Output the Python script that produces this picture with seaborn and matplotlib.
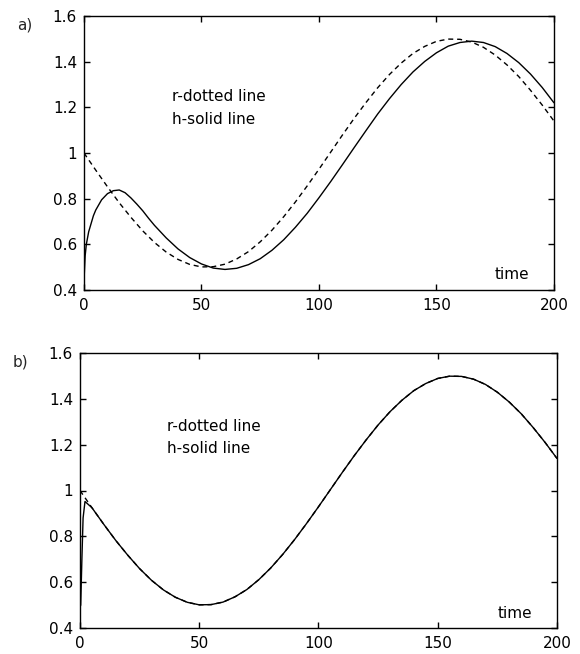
import matplotlib
matplotlib.use("Agg")
import matplotlib.pyplot as plt
import seaborn as sns
from matplotlib.ticker import FuncFormatter

# ---- data ----
t_r = [0, 5, 10, 15, 20, 25, 30, 35, 40, 45, 50, 55, 60, 65, 70, 75, 80, 85, 90, 95,
       100, 105, 110, 115, 120, 125, 130, 135, 140, 145, 150, 155, 160, 165, 170, 175,
       180, 185, 190, 195, 200]
r_vals = [1.000, 0.925, 0.852, 0.782, 0.718, 0.659, 0.608, 0.566, 0.534, 0.512, 0.501,
          0.502, 0.513, 0.536, 0.568, 0.611, 0.662, 0.721, 0.786, 0.856, 0.929, 1.004,
          1.079, 1.152, 1.221, 1.286, 1.344, 1.394, 1.436, 1.467, 1.489, 1.499, 1.498,
          1.486, 1.463, 1.429, 1.386, 1.335, 1.275, 1.210, 1.140]

t_ha = [0, 0.5, 1, 2, 3, 4, 5, 7.5, 10, 12.5, 15, 17.5, 20, 22.5, 25, 27.5, 30, 35, 40,
        45, 50, 55, 60, 65, 70, 75, 80, 85, 90, 95, 100, 105, 110, 115, 120, 125, 130,
        135, 140, 145, 150, 155, 160, 165, 170, 175, 180, 185, 190, 195, 200]
h_a = [0.44, 0.55, 0.60, 0.655, 0.69, 0.725, 0.75, 0.795, 0.822, 0.835, 0.838, 0.826,
       0.803, 0.776, 0.747, 0.714, 0.683, 0.628, 0.580, 0.542, 0.514, 0.496, 0.490,
       0.495, 0.511, 0.537, 0.574, 0.620, 0.675, 0.736, 0.804, 0.875, 0.949, 1.024,
       1.098, 1.171, 1.238, 1.300, 1.355, 1.401, 1.439, 1.468, 1.484, 1.490, 1.484,
       1.466, 1.436, 1.396, 1.346, 1.287, 1.220]

t_hb = [0, 0.3, 0.8, 1.3, 2.1, 5, 10, 15, 20, 25, 30, 35, 40, 45, 50, 55, 60, 65, 70,
        75, 80, 85, 90, 95, 100, 105, 110, 115, 120, 125, 130, 135, 140, 145, 150, 155,
        160, 165, 170, 175, 180, 185, 190, 195, 200]
h_b = [0.49, 0.50, 0.70, 0.88, 0.952, 0.925, 0.852, 0.782, 0.718, 0.659, 0.608, 0.566,
       0.534, 0.512, 0.501, 0.502, 0.513, 0.536, 0.568, 0.611, 0.662, 0.721, 0.786,
       0.856, 0.929, 1.004, 1.079, 1.152, 1.221, 1.286, 1.344, 1.394, 1.436, 1.467,
       1.489, 1.499, 1.498, 1.486, 1.463, 1.429, 1.386, 1.335, 1.275, 1.210, 1.140]

x_ticks = [0, 50, 100, 150, 200]
y_ticks = [0.4, 0.6, 0.8, 1.0, 1.2, 1.4, 1.6]
panel_labels = ["a)", "b)"]
note_lines = ["r-dotted line", "h-solid line"]
x_label = "time"

# ---- style ----
sns.set_theme(style="white")
plt.rcParams["font.family"] = ["DejaVu Sans"]

fig = plt.figure(figsize=(5.8, 6.54), dpi=100)
ax_a = fig.add_axes([0.1448, 0.5566, 0.8103, 0.4189])
ax_b = fig.add_axes([0.1379, 0.0398, 0.8224, 0.4204])

dash = (0, (3.6, 2.8))

sns.lineplot(x=t_r, y=r_vals, ax=ax_a, color="black", linewidth=1.0, linestyle=dash)
sns.lineplot(x=t_ha, y=h_a, ax=ax_a, color="black", linewidth=1.0)

sns.lineplot(x=t_r, y=r_vals, ax=ax_b, color="black", linewidth=1.0, linestyle=dash)
sns.lineplot(x=t_hb, y=h_b, ax=ax_b, color="black", linewidth=1.0)

fmt = FuncFormatter(lambda v, p: f"{v:g}")
for ax in (ax_a, ax_b):
    ax.set_xlim(0, 200)
    ax.set_ylim(0.4, 1.6)
    ax.set_xticks(x_ticks)
    ax.set_yticks(y_ticks)
    ax.yaxis.set_major_formatter(fmt)
    ax.xaxis.set_major_formatter(fmt)
    ax.tick_params(direction="in", length=4, width=1, colors="black",
                   top=True, right=True, bottom=True, left=True,
                   labelsize=11, pad=6)
    ax.tick_params(axis="y", pad=5)
    for s in ax.spines.values():
        s.set_color("black")
        s.set_linewidth(1.0)
        s.set_visible(True)
    ax.set_xlabel("")
    ax.set_ylabel("")
    ax.grid(False)
    for lab in ax.get_xticklabels() + ax.get_yticklabels():
        lab.set_color("black")

ax_a.text(37.3, 1.247, note_lines[0], fontsize=11, va="center", ha="left", color="black")
ax_a.text(37.3, 1.145, note_lines[1], fontsize=11, va="center", ha="left", color="black")
ax_b.text(36.4, 1.278, note_lines[0], fontsize=11, va="center", ha="left", color="black")
ax_b.text(36.4, 1.184, note_lines[1], fontsize=11, va="center", ha="left", color="black")
ax_a.text(182, 0.47, x_label, fontsize=11, va="center", ha="center", color="black")
ax_b.text(182.5, 0.464, x_label, fontsize=11, va="center", ha="center", color="black")

fig.text(25 / 580, 1 - 25 / 654, panel_labels[0], fontsize=11, ha="center", va="center")
fig.text(20 / 580, 1 - 362 / 654, panel_labels[1], fontsize=11, ha="center", va="center")

fig.savefig("out.png", dpi=100, facecolor="white")
